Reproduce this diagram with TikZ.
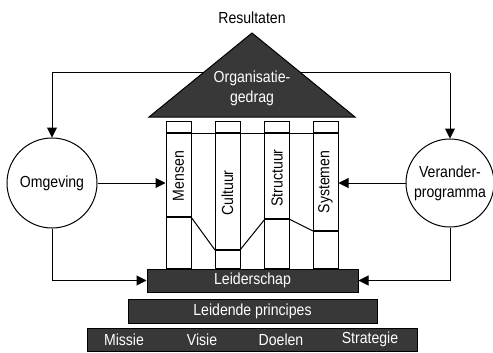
\documentclass[tikz,border=0pt]{standalone}
\usepackage{fontspec}
\setmainfont{Liberation Sans}[FakeStretch=0.88]
\usetikzlibrary{arrows.meta}
\definecolor{dark}{HTML}{383838}
\begin{document}
\begin{tikzpicture}[x=1pt,y=-1pt,
  line width=1pt,
  every node/.style={font=\fontsize{16}{20}\selectfont, inner sep=0pt},
  arr/.style={-{Triangle[length=10pt,width=10pt]}},
  bar/.style={fill=dark, draw=black, text=white, minimum height=23pt},
  col/.style={draw=black, minimum width=25pt, minimum height=147pt},
  ring/.style={draw=black, circle, minimum size=90pt, align=center}]
\useasboundingbox (0,0) rectangle (493,353);

% top text
\node (res) at (252,18) {Resultaten};

% circles
\node[ring] (omg) at (52,183) {Omgeving};
\node[ring, minimum size=88pt] (ver) at (450,183) {Verander-\\programma};

% top connector line (behind roof)
\coordinate (tl) at (52,73);
\coordinate (tr) at (450,73);
\draw (tl) -- (tr);
\draw[arr] (tl) -- (omg.north);
\draw[arr] (tr) -- (ver.north);

% roof
\draw[fill=dark] (149,117) -- (252,33) -- (355,117) -- cycle;
\node[text=white, align=center] (org) at (252,88) {Organisatie-\\gedrag};

% columns
\node[col] (c1) at (178.5,194.5) {};
\node[col] (c2) at (227.5,194.5) {};
\node[col] (c3) at (277,194.5) {};
\node[col] (c4) at (325.5,194.5) {};
\node[rotate=90] (t1) at (178.5,176) {Mensen};
\node[rotate=90] (t2) at (227.5,193) {Cultuur};
\node[rotate=90] (t3) at (277,178) {Structuur};
\node[rotate=90] (t4) at (325.5,182) {Systemen};

% upper band line
\draw (166,133) -- (338,133);
\foreach \a/\b in {166/191,215/240,265/289,313/338}
  \draw[line width=2pt] (\a,133) -- (\b,133);
% lower profile
\draw (191,217) -- (215,250) (240,250) -- (265,219) (289,219) -- (313,231);
\draw[line width=2pt] (166,217) -- (191,217) (215,250) -- (240,250)
  (265,219) -- (289,219) (313,231) -- (338,231);

% bars
\node[bar, minimum width=211pt] (lead) at (252.5,280.5) {Leiderschap};
\node[bar, minimum width=249pt, minimum height=24pt] (princ) at (252.5,311) {Leidende principes};
\node[bar, minimum width=330pt] (base) at (252,339.5) {};
\node[text=white] (m1) at (124,339.5) {Missie};
\node[text=white] (m2) at (202,339.5) {Visie};
\node[text=white] (m3) at (281,339.5) {Doelen};
\node[text=white] (m4) at (370,339.5) {Strategie};

% side connectors
\draw[arr] (omg.east) -- (c1.west |- omg.east);
\draw[arr] (ver.west) -- (c4.east |- ver.west);
\draw[arr] (omg.south) |- (lead.west);
\draw[arr] (ver.south) |- (lead.east);
\end{tikzpicture}
\end{document}
